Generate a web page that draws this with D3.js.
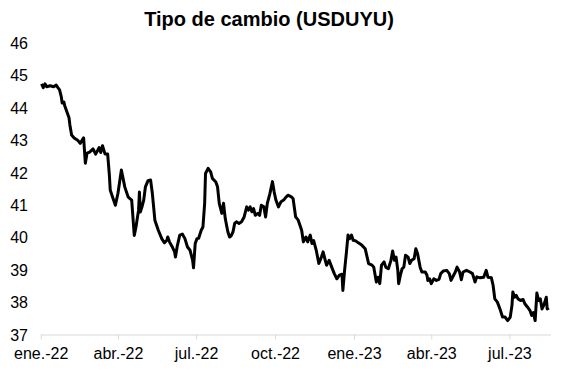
<!DOCTYPE html>
<meta charset="utf-8">
<style>
    body { margin: 0; background: #fff; }
    svg { font-family: "Liberation Sans", Arial, sans-serif; }
    .line { fill: none; stroke: #000; stroke-width: 3px; stroke-linejoin: round; }
    .axis--x path, .axis--x line { stroke: #d9d9d9; }
    .axis text { fill: #000; font-size: 16px; }
</style>
<svg width="563" height="371"></svg>
<script src="https://d3js.org/d3.v7.min.js"></script>
<script>

    // USD/UYU exchange rate
    var dates = [
        "2022-01-02","2022-01-04","2022-01-06","2022-01-08","2022-01-12","2022-01-16","2022-01-19","2022-01-21","2022-01-23","2022-01-25",
        "2022-01-26","2022-01-28","2022-01-29","2022-02-01","2022-02-03","2022-02-04","2022-02-06","2022-02-09","2022-02-13","2022-02-16",
        "2022-02-20","2022-02-22","2022-02-24","2022-02-27","2022-03-03","2022-03-06","2022-03-10","2022-03-12","2022-03-14","2022-03-17",
        "2022-03-20","2022-03-22","2022-03-23","2022-03-25","2022-03-29","2022-04-01","2022-04-05","2022-04-09","2022-04-13","2022-04-17",
        "2022-04-20","2022-04-22","2022-04-25","2022-04-26","2022-04-27","2022-04-29","2022-05-01","2022-05-03","2022-05-06","2022-05-09",
        "2022-05-11","2022-05-14","2022-05-18","2022-05-22","2022-05-25","2022-05-28","2022-05-29","2022-05-31","2022-06-03","2022-06-06",
        "2022-06-07","2022-06-09","2022-06-12","2022-06-15","2022-06-18","2022-06-21","2022-06-24","2022-06-27","2022-06-28","2022-06-30",
        "2022-07-02","2022-07-04","2022-07-07","2022-07-09","2022-07-11","2022-07-12","2022-07-15","2022-07-18","2022-07-20","2022-07-24",
        "2022-07-26","2022-07-28","2022-07-31","2022-08-02","2022-08-04","2022-08-07","2022-08-09","2022-08-11","2022-08-13","2022-08-15",
        "2022-08-17","2022-08-20","2022-08-23","2022-08-26","2022-08-29","2022-08-31","2022-09-02","2022-09-04","2022-09-06","2022-09-08",
        "2022-09-11","2022-09-13","2022-09-15","2022-09-18","2022-09-20","2022-09-22","2022-09-25","2022-09-28","2022-09-30","2022-10-02",
        "2022-10-05","2022-10-08","2022-10-11","2022-10-14","2022-10-16","2022-10-20","2022-10-22","2022-10-25","2022-10-28","2022-11-01",
        "2022-11-03","2022-11-06","2022-11-08","2022-11-11","2022-11-13","2022-11-15","2022-11-18","2022-11-21","2022-11-24","2022-11-26",
        "2022-11-28","2022-11-30","2022-12-03","2022-12-06","2022-12-09","2022-12-12","2022-12-15","2022-12-18","2022-12-19","2022-12-21",
        "2022-12-23","2022-12-25","2022-12-27","2022-12-29","2022-12-31","2023-01-03","2023-01-06","2023-01-10","2023-01-14","2023-01-18",
        "2023-01-22","2023-01-24","2023-01-27","2023-01-29","2023-01-31","2023-02-02","2023-02-05","2023-02-07","2023-02-10","2023-02-13",
        "2023-02-15","2023-02-17","2023-02-19","2023-02-21","2023-02-22","2023-02-24","2023-02-26","2023-02-28","2023-03-02","2023-03-05",
        "2023-03-07","2023-03-09","2023-03-12","2023-03-14","2023-03-16","2023-03-19","2023-03-21","2023-03-25","2023-03-27","2023-03-28",
        "2023-03-30","2023-04-01","2023-04-04","2023-04-07","2023-04-10","2023-04-12","2023-04-15","2023-04-19","2023-04-22","2023-04-24",
        "2023-04-27","2023-04-29","2023-05-01","2023-05-04","2023-05-06","2023-05-08","2023-05-12","2023-05-16","2023-05-19","2023-05-22",
        "2023-05-24","2023-05-28","2023-06-01","2023-06-04","2023-06-06","2023-06-10","2023-06-12","2023-06-14","2023-06-17","2023-06-20",
        "2023-06-23","2023-06-26","2023-06-29","2023-07-02","2023-07-04","2023-07-05","2023-07-07","2023-07-09","2023-07-11","2023-07-14",
        "2023-07-17","2023-07-19","2023-07-22","2023-07-25","2023-07-27","2023-07-29","2023-07-31","2023-08-02","2023-08-04","2023-08-06",
        "2023-08-08","2023-08-10","2023-08-13","2023-08-14","2023-08-16"
    ];

    var rates = [
        44.74,44.62,44.74,44.65,44.68,44.65,44.70,44.62,44.55,44.34,
        44.15,44.18,44.06,43.84,43.69,43.47,43.16,43.07,43.00,42.90,
        43.07,42.29,42.60,42.63,42.73,42.57,42.77,42.62,42.83,42.57,
        42.57,41.92,41.46,41.30,40.99,41.36,42.08,41.55,41.24,41.15,
        40.06,40.32,40.84,41.40,40.78,40.94,41.15,41.56,41.75,41.77,
        41.37,40.53,40.22,39.96,39.83,39.91,40.01,39.86,39.72,39.55,
        39.39,39.72,40.07,40.10,39.96,39.70,39.60,39.29,39.06,39.81,
        39.96,39.97,40.22,40.32,41.05,41.97,42.13,42.02,41.82,41.71,
        41.56,41.05,40.74,41.05,40.58,40.17,40.01,40.05,40.17,40.43,
        40.48,40.43,40.48,40.63,40.94,40.84,40.94,40.79,40.89,40.68,
        40.74,40.68,40.99,40.94,40.63,41.05,41.35,41.72,41.40,41.15,
        40.94,41.10,41.15,41.25,41.30,41.25,41.20,40.63,40.53,40.22,
        39.86,40.01,39.86,40.07,39.81,39.90,39.60,39.19,39.39,39.55,
        39.34,39.14,39.29,39.08,38.88,38.72,38.83,38.86,38.36,38.98,
        39.50,40.07,39.96,40.07,39.91,39.89,39.83,39.76,39.65,39.19,
        39.14,39.08,38.62,38.77,38.57,39.14,39.24,39.08,39.03,39.29,
        39.58,39.29,39.39,38.98,38.57,38.83,39.03,39.08,39.45,39.39,
        39.19,39.29,39.34,39.65,39.50,39.08,38.93,38.93,38.83,38.67,
        38.72,38.57,38.72,38.67,38.70,38.88,38.96,38.98,38.88,38.67,
        38.83,38.93,39.08,38.93,38.69,38.93,38.98,38.93,38.88,38.62,
        38.78,38.75,38.77,38.98,38.77,38.75,38.52,38.10,38.00,37.79,
        37.54,37.54,37.43,37.54,37.90,38.31,38.15,38.21,38.10,38.05,
        38.08,37.95,37.85,37.74,37.59,37.68,37.43,38.28,38.05,38.10,
        37.79,37.90,38.15,37.79,37.82
    ];

    var yTicks = [37, 38, 39, 40, 41, 42, 43, 44, 45, 46];
    var xTickDates = ["2022-01-01","2022-04-01","2022-07-01","2022-10-01","2023-01-01","2023-04-01","2023-07-01"];
    var xTickLabels = ["ene.-22","abr.-22","jul.-22","oct.-22","ene.-23","abr.-23","jul.-23"];
    var title = "Tipo de cambio (USDUYU)";

    var parseDate = d3.timeParse("%Y-%m-%d");
    var data = dates.map(function(d, i) { return {date: parseDate(d), rate: rates[i]}; });

    var svg = d3.select("svg");

    var x = d3.scaleTime()
        .domain([parseDate("2022-01-01"), parseDate("2023-08-18")])
        .range([40.7, 550.6]);

    var y = d3.scaleLinear()
        .domain([37, 46])
        .range([334.5, 43]);

    svg.append("text")
        .attr("x", 269)
        .attr("y", 26)
        .attr("text-anchor", "middle")
        .style("font-size", "20px")
        .style("font-weight", "bold")
        .text(title);

    // y axis: labels only
    var yAxis = svg.append("g")
        .attr("class", "axis axis--y")
        .attr("transform", "translate(28,0)")
        .call(d3.axisLeft(y).tickValues(yTicks).tickSize(0).tickPadding(0).tickFormat(d3.format("d")));
    yAxis.select(".domain").remove();
    yAxis.selectAll("text").attr("dy", "0.35em");

    // x axis: light grey line with small ticks below
    var xAxis = svg.append("g")
        .attr("class", "axis axis--x")
        .attr("transform", "translate(0," + y(37) + ")")
        .call(d3.axisBottom(x)
            .tickValues(xTickDates.map(parseDate))
            .tickSizeInner(5)
            .tickSizeOuter(0)
            .tickPadding(8)
            .tickFormat(function(d, i) { return xTickLabels[i]; }));
    xAxis.selectAll("text").attr("dy", "0.71em");

    var line = d3.line()
        .x(function(d) { return x(d.date); })
        .y(function(d) { return y(d.rate); });

    svg.append("path")
        .datum(data)
        .attr("class", "line")
        .attr("d", line);

</script>
